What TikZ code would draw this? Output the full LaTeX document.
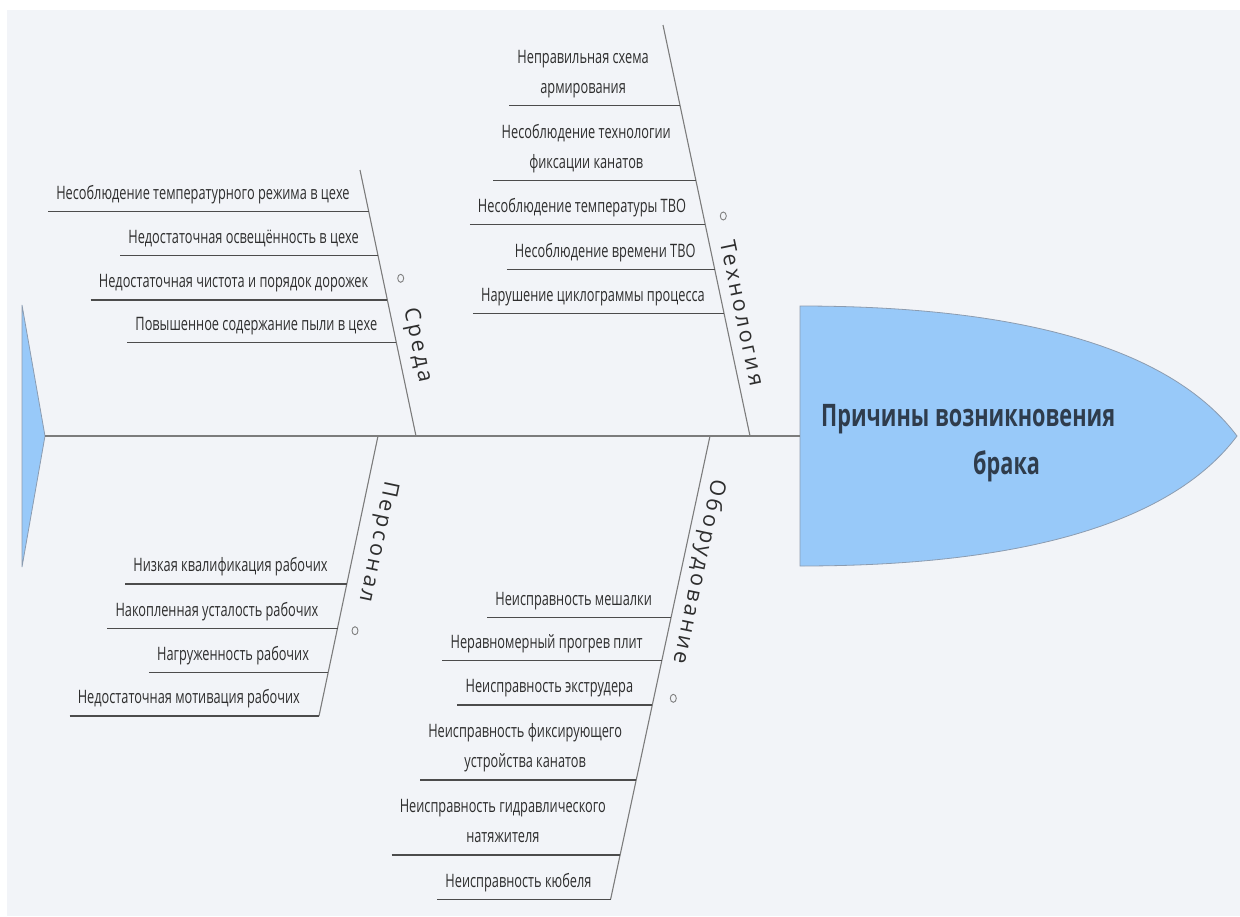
\documentclass[tikz,border=0pt]{standalone}
\usepackage{fontspec}
\usetikzlibrary{calc}
\newfontfamily\causefont[FakeStretch=0.69]{Open Sans}
\newfontfamily\headfont[FakeStretch=0.7]{Open Sans}
\newfontfamily\branchfont[LetterSpace=14]{Open Sans}
\definecolor{bg}{HTML}{F2F4F8}
\definecolor{fishblue}{HTML}{98C9F9}
\definecolor{fishedge}{HTML}{8C9CB0}
\definecolor{bonegray}{HTML}{7C7C7C}
\definecolor{subgray}{HTML}{4C4C4C}
\definecolor{txt}{HTML}{2E2E2E}
\definecolor{headtxt}{HTML}{2F3C4C}
\begin{document}
\begin{tikzpicture}[x=1pt,y=-1pt,
  bone/.style={draw=bonegray,line width=1.1pt},
  sub/.style={draw=subgray,line width=1.5pt},
  cause/.style={font=\causefont\fontsize{18.5}{30}\selectfont,text=txt,align=center,anchor=south east,inner sep=0pt,text depth=4pt,xshift=-19pt,yshift=8pt},
  branch/.style={font=\branchfont\fontsize{21.5}{25}\selectfont,text=txt,inner sep=0pt},
  ring/.style={draw=gray,line width=0.9pt}]
\fill[white] (0,0) rectangle (1240,916);
\fill[bg] (7,10) rectangle (1240,916);
\useasboundingbox (0,0) rectangle (1240,916);
\filldraw[fill=fishblue,draw=fishedge,line width=0.8pt] (22,305) -- (45,436) -- (22,567) -- cycle;
\filldraw[fill=fishblue,draw=fishedge,line width=0.8pt] (800,306) .. controls (1050,306) and (1180,360) .. (1237,436) .. controls (1180,512) and (1050,566) .. (800,566) -- cycle;
\coordinate (tail) at (45,436);
\coordinate (head) at (800,436);
\node[font=\headfont\fontsize{31}{48}\selectfont\bfseries,text=headtxt,align=left,anchor=base west,inner sep=0pt] (problem) at (821,474) {Причины возникновения\\\hspace*{152pt}брака};
\coordinate (sredaT) at (360,170);   \coordinate (sredaB) at (416,436);
\coordinate (tehT) at (663,25);      \coordinate (tehB) at (750,436);
\coordinate (persT) at (378,436);    \coordinate (persB) at (319,716);
\coordinate (oborT) at (710,436);    \coordinate (oborB) at (610.6,899.3);
\draw[bone] (tail) -- (head);
\draw[bone] (sredaT) -- (sredaB);
\draw[bone] (tehT) -- (tehB);
\draw[bone] (persT) -- (persB);
\draw[bone] (oborT) -- (oborB);
\node[branch,rotate=-78.1] (sreda) at (417,345) {Среда};
\node[branch,rotate=-78.1] (teh) at (742.5,313) {Технология};
\node[branch,rotate=-101.9] (pers) at (377.3,541.7) {Персонал};
\node[branch,rotate=-101.9] (obor) at (698.3,571.7) {Оборудование};
\draw[ring] (400.7,278.3) ellipse (3 and 4);
\draw[ring] (723.3,216) ellipse (3 and 4);
\draw[ring] (355,630.7) ellipse (3 and 4);
\draw[ring] (673.3,698.3) ellipse (3 and 4);
\coordinate (s1) at (368.8,211.7); \coordinate (s2) at (378,255.7); \coordinate (s3) at (387.4,300); \coordinate (s4) at (396.4,342.7);
\node[cause] (S1) at (s1) {Несоблюдение температурного режима в цехе};
\node[cause] (S2) at (s2) {Недостаточная освещённость в цехе};
\node[cause] (S3) at (s3) {Недостаточная чистота и порядок дорожек};
\node[cause] (S4) at (s4) {Повышенное содержание пыли в цехе};
\draw[sub] ($(S1.south west |- s1)+(-8,0)$) -- (s1);
\draw[sub] ($(S2.south west |- s2)+(-8,0)$) -- (s2);
\draw[sub] ($(S3.south west |- s3)+(-8,0)$) -- (s3);
\draw[sub] ($(S4.south west |- s4)+(-8,0)$) -- (s4);
\coordinate (t1) at (680,105.7); \coordinate (t2) at (696,180.7); \coordinate (t3) at (705.2,224.3); \coordinate (t4) at (714.7,269.3); \coordinate (t5) at (724,313.3);
\node[cause,xshift=-12pt] (T1) at (t1) {Неправильная схема\\армирования};
\node[cause,xshift=-6pt] (T2) at (t2) {Несоблюдение технологии\\фиксации канатов};
\node[cause] (T3) at (t3) {Несоблюдение температуры ТВО};
\node[cause] (T4) at (t4) {Несоблюдение времени ТВО};
\node[cause] (T5) at (t5) {Нарушение циклограммы процесса};
\draw[sub] ($(T1.south west |- t1)+(-8,0)$) -- (t1);
\draw[sub] ($(T2.south west |- t2)+(-8,0)$) -- (t2);
\draw[sub] ($(T3.south west |- t3)+(-8,0)$) -- (t3);
\draw[sub] ($(T4.south west |- t4)+(-8,0)$) -- (t4);
\draw[sub] ($(T5.south west |- t5)+(-8,0)$) -- (t5);
\coordinate (p1) at (346.8,584); \coordinate (p2) at (337.5,628.3); \coordinate (p3) at (328.2,672.3); \coordinate (p4) at (319,716);
\node[cause] (P1) at (p1) {Низкая квалификация рабочих};
\node[cause] (P2) at (p2) {Накопленная усталость рабочих};
\node[cause] (P3) at (p3) {Нагруженность рабочих};
\node[cause] (P4) at (p4) {Недостаточная мотивация рабочих};
\draw[sub] ($(P1.south west |- p1)+(-8,0)$) -- (p1);
\draw[sub] ($(P2.south west |- p2)+(-8,0)$) -- (p2);
\draw[sub] ($(P3.south west |- p3)+(-8,0)$) -- (p3);
\draw[sub] ($(P4.south west |- p4)+(-8,0)$) -- (p4);
\coordinate (o1) at (671.1,617.3); \coordinate (o2) at (661.8,660.7); \coordinate (o3) at (652.3,705); \coordinate (o4) at (636.2,780); \coordinate (o5) at (620.1,855); \coordinate (o6) at (610.6,899.3);
\node[cause] (O1) at (o1) {Неисправность мешалки};
\node[cause] (O2) at (o2) {Неравномерный прогрев плит};
\node[cause] (O3) at (o3) {Неисправность экструдера};
\node[cause,xshift=5pt] (O4) at (o4) {Неисправность фиксирующего\\устройства канатов};
\node[cause,xshift=5pt] (O5) at (o5) {Неисправность гидравлического\\натяжителя};
\node[cause] (O6) at (o6) {Неисправность кюбеля};
\draw[sub] ($(O1.south west |- o1)+(-8,0)$) -- (o1);
\draw[sub] ($(O2.south west |- o2)+(-8,0)$) -- (o2);
\draw[sub] ($(O3.south west |- o3)+(-8,0)$) -- (o3);
\draw[sub] ($(O4.south west |- o4)+(-8,0)$) -- (o4);
\draw[sub] ($(O5.south west |- o5)+(-8,0)$) -- (o5);
\draw[sub] ($(O6.south west |- o6)+(-8,0)$) -- (o6);
\end{tikzpicture}
\end{document}
